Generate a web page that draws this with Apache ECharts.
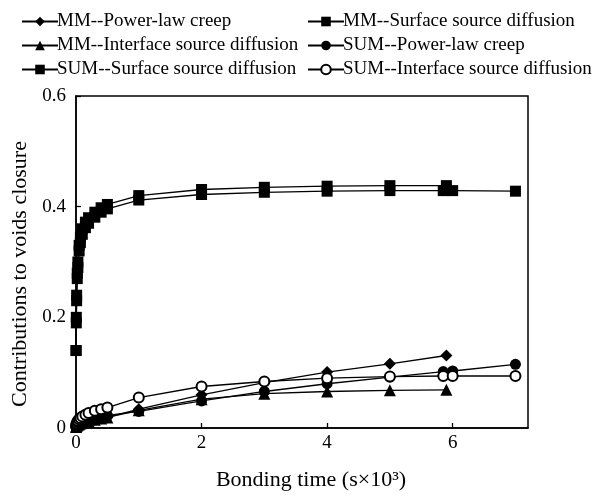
<!DOCTYPE html>
<html><head><meta charset="utf-8">
<script src="https://cdn.jsdelivr.net/npm/echarts@6/dist/echarts.min.js"></script>
<style>html,body{margin:0;padding:0;background:#fff}#c{width:594px;height:496px}</style>
</head><body><div id="c"></div>
<script>
var mmTime  = [0.001, 0.005, 0.01, 0.02, 0.03, 0.05, 0.07, 0.1, 0.15, 0.2, 0.3, 0.4, 0.5, 1, 2, 3, 4, 5, 5.9];
var sumTime = [0.001, 0.005, 0.01, 0.02, 0.03, 0.05, 0.07, 0.1, 0.15, 0.2, 0.3, 0.4, 0.5, 1, 2, 3, 4, 5, 5.85, 6, 7];

var mmPower     = [0.002, 0.003, 0.004, 0.005, 0.006, 0.007, 0.008, 0.009, 0.011, 0.012, 0.015, 0.017, 0.019, 0.034, 0.060, 0.082, 0.101, 0.116, 0.131];
var mmSurface   = [0.14, 0.20, 0.24, 0.28, 0.30, 0.33, 0.345, 0.36, 0.372, 0.38, 0.39, 0.398, 0.404, 0.42, 0.431, 0.435, 0.437, 0.438, 0.438];
var mmInterface = [0.002, 0.003, 0.004, 0.005, 0.006, 0.007, 0.008, 0.009, 0.011, 0.012, 0.015, 0.017, 0.019, 0.032, 0.052, 0.062, 0.066, 0.068, 0.069];

var sumPower     = [0.002, 0.004, 0.005, 0.007, 0.008, 0.010, 0.011, 0.013, 0.015, 0.016, 0.019, 0.021, 0.023, 0.030, 0.049, 0.066, 0.080, 0.092, 0.102, 0.103, 0.115];
var sumSurface   = [0.14, 0.19, 0.23, 0.27, 0.29, 0.32, 0.335, 0.35, 0.362, 0.37, 0.381, 0.39, 0.396, 0.412, 0.422, 0.426, 0.428, 0.429, 0.429, 0.429, 0.428];
var sumInterface = [0.003, 0.006, 0.008, 0.011, 0.013, 0.016, 0.018, 0.021, 0.024, 0.027, 0.031, 0.034, 0.037, 0.055, 0.075, 0.084, 0.090, 0.093, 0.094, 0.094, 0.094];

var xTicks = [0, 2, 4, 6];
var yTicks = [0, 0.2, 0.4, 0.6];

function pairs(t, v){ return t.map(function(x,i){ return [x, v[i]]; }); }
var FONT = 'Liberation Serif';

function mk(name, t, v, sym, size){
  var empty = sym === 'emptyCircle';
  return {
    name: name, type: 'line', data: pairs(t, v), symbol: sym, symbolSize: size,
    showAllSymbol: true, clip: false, smooth: false,
    lineStyle: {color: '#000', width: 1.3},
    itemStyle: {color: '#000', borderColor: '#000', borderWidth: empty ? 1.6 : 0},
    emphasis: {disabled: true}
  };
}

var chart = echarts.init(document.getElementById('c'));
var legendCommon = {
  orient: 'vertical', top: 7, itemWidth: 36, itemHeight: 12, itemGap: 5,
  textStyle: {fontFamily: FONT, fontSize: 19, color: '#000', padding: [0,0,0,-6]},
  selectedMode: false
};
chart.setOption({
  animation: false,
  legend: [
    Object.assign({}, legendCommon, {left: 16, data: ['MM--Power-law creep', 'MM--Interface source diffusion', 'SUM--Surface source diffusion']}),
    Object.assign({}, legendCommon, {left: 302, data: ['MM--Surface source diffusion', 'SUM--Power-law creep', 'SUM--Interface source diffusion']})
  ],
  grid: {left: 76, top: 96, right: 66, bottom: 62, show: true, borderColor: '#000', borderWidth: 1.5, containLabel: false},
  xAxis: {
    type: 'value', min: xTicks[0], max: 7.2, interval: 2,
    name: 'Bonding time (s×10³)', nameLocation: 'middle', nameGap: 41,
    nameTextStyle: {fontFamily: FONT, fontSize: 22, color: '#000', padding: [0,0,0,18]},
    axisLine: {lineStyle: {color: '#000', width: 1.5}},
    axisTick: {inside: true, length: 5, lineStyle: {color: '#000', width: 1.3}},
    axisLabel: {fontFamily: FONT, fontSize: 19, color: '#000', margin: 6, showMaxLabel: false},
    splitLine: {show: false}
  },
  yAxis: {
    type: 'value', min: yTicks[0], max: yTicks[3], interval: 0.2,
    name: 'Contributions to voids closure', nameLocation: 'middle', nameGap: 44,
    nameTextStyle: {fontFamily: FONT, fontSize: 22, color: '#000', padding: [0,0,0,-24]},
    axisLine: {lineStyle: {color: '#000', width: 1.5}},
    axisTick: {inside: true, length: 5, lineStyle: {color: '#000', width: 1.3}},
    axisLabel: {fontFamily: FONT, fontSize: 19, color: '#000', margin: 10},
    splitLine: {show: false}
  },
  series: [
    mk('MM--Power-law creep', mmTime, mmPower, 'diamond', 12),
    mk('MM--Surface source diffusion', mmTime, mmSurface, 'rect', 11),
    mk('MM--Interface source diffusion', mmTime, mmInterface, 'triangle', 12),
    mk('SUM--Power-law creep', sumTime, sumPower, 'circle', 11),
    mk('SUM--Surface source diffusion', sumTime, sumSurface, 'rect', 11),
    mk('SUM--Interface source diffusion', sumTime, sumInterface, 'emptyCircle', 10)
  ]
});
</script></body></html>
